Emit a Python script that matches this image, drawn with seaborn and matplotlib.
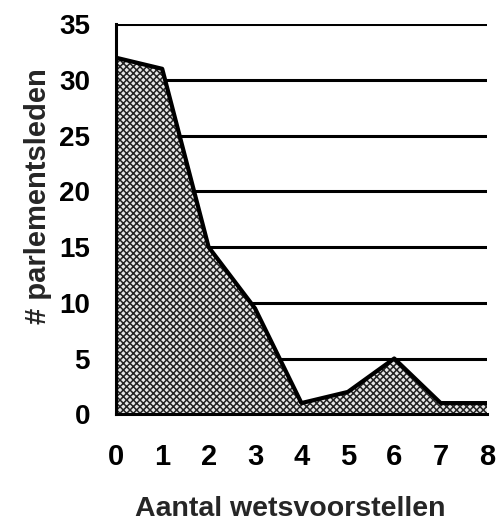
import numpy as np
import pandas as pd
import seaborn as sns
import matplotlib.pyplot as plt

wetsvoorstellen = [0, 1, 2, 3, 4, 5, 6, 7, 8]
parlementsleden = [32, 31, 15, 9.5, 1, 2, 5, 1, 1]

df = pd.DataFrame({"x": wetsvoorstellen, "y": parlementsleden})

sns.set_style("white")
plt.rcParams['font.family'] = ['Liberation Sans', 'DejaVu Sans']
plt.rcParams['font.weight'] = 'bold'
plt.rcParams['hatch.linewidth'] = 1.1

fig = plt.figure(figsize=(4.97, 5.27), dpi=100)
ax = fig.add_axes([0.233, 0.214, 0.747, 0.740])

# horizontal grid lines
for yv in range(5, 40, 5):
    ax.axhline(yv, color='black', lw=2.2, zorder=0)

ax.fill_between(df["x"], df["y"], 0, facecolor='#e6e6e6', edgecolor='#222222',
                hatch='xxxxx', lw=0, zorder=1)
sns.lineplot(data=df, x="x", y="y", color='black', lw=3, ax=ax, zorder=2)

ax.set_xlim(0, 8)
ax.set_ylim(0, 35)
ax.set_xticks(range(0, 9))
ax.set_yticks(range(0, 40, 5))
for s in ['top', 'right']:
    ax.spines[s].set_visible(False)
for s in ['left', 'bottom']:
    ax.spines[s].set_linewidth(2.2)
    ax.spines[s].set_color('black')
ax.tick_params(axis='both', direction='out', width=2, colors='black')
ax.tick_params(axis='x', pad=13, length=8, labelsize=21)
ax.tick_params(axis='y', pad=10, length=8.5, labelsize=20)
ax.set_xlabel("Aantal wetsvoorstellen", fontsize=20.5, fontweight='bold')
ax.set_ylabel("# parlementsleden", fontsize=21, fontweight='bold')
ax.xaxis.set_label_coords(0.47, -0.21)
ax.xaxis.label.set_va('top')
ax.yaxis.set_label_coords(-0.172, 0.56)
for lab in ax.get_xticklabels() + ax.get_yticklabels():
    lab.set_fontweight('bold')

fig.savefig('out.png', dpi=100)
